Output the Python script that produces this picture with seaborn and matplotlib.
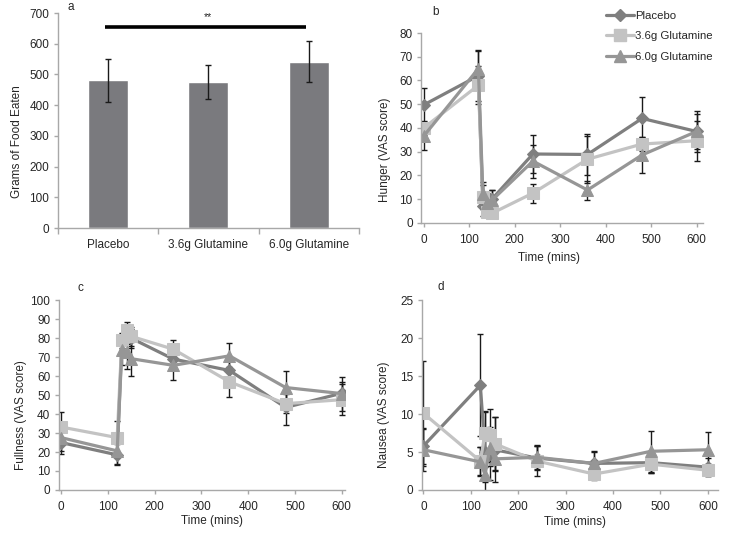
import numpy as np
import pandas as pd
import matplotlib
matplotlib.use("Agg")
import matplotlib.pyplot as plt
import seaborn as sns

sns.set_style("white")
plt.rcParams['font.family'] = ['Liberation Sans', 'DejaVu Sans']

# ---------------- data ----------------
groups = ["Placebo", "3.6g Glutamine", "6.0g Glutamine"]
food_mean = [481, 476, 542]
food_err = [71, 56, 66]

times = [0, 120, 130, 140, 150, 240, 360, 480, 600]

hunger_placebo = [49.7, 62, 7, 8, 10, 29, 28.8, 44, 38.5]
hunger_placebo_err = [7, 10.5, 4, 4, 4, 8, 8.5, 9, 8.5]
hunger_36 = [40, 58, 11, 4.5, 4, 12.5, 26.8, 33.2, 34.6]
hunger_36_err = [3, 8, 5, 2, 2, 4, 10, 3, 8.5]
hunger_60 = [36.6, 65, 12, 8.5, 9.5, 26, 13.8, 28.6, 38.5]
hunger_60_err = [6, 8, 5, 4, 4.5, 7, 4, 7.5, 7.5]

full_placebo = [25, 18.5, 78, 81, 80, 69, 63, 43.5, 51]
full_placebo_err = [6, 5.5, 4, 4, 5, 5, 6, 9, 6]
full_36 = [33.2, 27.6, 79, 84.2, 81, 74.2, 57, 45.5, 47.6]
full_36_err = [8, 8.5, 4, 4.3, 5, 5, 8, 5, 8]
full_60 = [27.6, 20.6, 73.8, 72.8, 69.2, 65.7, 70.7, 54, 50.8]
full_60_err = [7, 7, 8, 9, 9, 7.5, 7, 8.5, 9]

naus_placebo = [5.8, 13.8, 5.0, 4.8, 5.3, 4.2, 3.5, 3.6, 3.0]
naus_placebo_err = [2.4, 6.7, 5.3, 3.5, 4.3, 1.6, 1.5, 1.3, 1.2]
naus_36 = [10.1, 3.8, 7.5, 7.2, 6.1, 3.8, 2.1, 3.4, 2.6]
naus_36_err = [6.9, 1.8, 2.9, 3.5, 3.5, 2.0, 0.8, 1.2, 0.8]
naus_60 = [5.3, 3.7, 2.0, 5.5, 4.1, 4.3, 3.5, 5.1, 5.3]
naus_60_err = [2.8, 1.9, 1.0, 2.4, 1.6, 1.6, 1.6, 2.7, 2.3]

# ---------------- styles ----------------
palette = {"Placebo": "#7f7f7f", "3.6g Glutamine": "#c3c3c3", "6.0g Glutamine": "#969696"}
markers = {"Placebo": "D", "3.6g Glutamine": "s", "6.0g Glutamine": "^"}
msizes = {"Placebo": 6, "3.6g Glutamine": 8, "6.0g Glutamine": 8}
TXT = "#262626"
SPINE = "#a8a8a8"
FS = 8.5
W, H = 740, 542

fig = plt.figure(figsize=(7.4, 5.42), dpi=100)
ax_a = fig.add_axes([0.078, 0.579, 0.407, 0.397])
ax_b = fig.add_axes([0.569, 0.589, 0.381, 0.350])
ax_c = fig.add_axes([0.0793, 0.096, 0.387, 0.350])
ax_d = fig.add_axes([0.570, 0.096, 0.400, 0.350])


def style_axes(ax):
    for s in ["top", "right"]:
        ax.spines[s].set_visible(False)
    for s in ["left", "bottom"]:
        ax.spines[s].set_color(SPINE)
        ax.spines[s].set_linewidth(1.0)
    ax.tick_params(axis="both", which="both", direction="out", color=SPINE,
                   labelsize=FS, labelcolor=TXT, length=3, width=1,
                   left=True, bottom=True, pad=3)


def place_ylabel(ax, right_px, center_px):
    ax.yaxis.set_label_coords(right_px / W, 1 - center_px / H, transform=fig.transFigure)


def place_xlabel(ax, center_px, top_px):
    ax.xaxis.set_label_coords(center_px / W, 1 - top_px / H, transform=fig.transFigure)


# ---------------- panel a ----------------
dfa = pd.DataFrame({"group": groups, "grams": food_mean})
sns.barplot(data=dfa, x="group", y="grams", color="#7a7a7e", width=0.4,
            errorbar=None, ax=ax_a, saturation=1)
ax_a.errorbar(range(len(groups)), food_mean, yerr=food_err, fmt="none",
              ecolor="#1a1a1a", elinewidth=1, capsize=2.5, capthick=1)
style_axes(ax_a)
ax_a.set_xlim(-0.5, 2.5)
ax_a.set_ylim(0, 700)
ax_a.set_yticks(range(0, 701, 100))
ax_a.set_xticks([-0.5, 0.5, 1.5, 2.5], minor=True)
ax_a.tick_params(axis="x", which="major", length=0, pad=8)
ax_a.tick_params(axis="x", which="minor", length=4, color=SPINE)
ax_a.set_xlabel("")
ax_a.set_ylabel("Grams of Food Eaten", fontsize=FS, color=TXT)
place_ylabel(ax_a, 23, 142)
ax_a.plot([-0.03, 1.97], [656, 656], color="black", lw=2.6, clip_on=False,
          solid_capstyle="butt")
ax_a.text(1.0, 672, "**", ha="center", va="bottom", fontsize=FS - 1, color=TXT)
fig.text(68 / W, 1 - 7 / H, "a", fontsize=FS, color=TXT, ha="left", va="center")


def line_panel(ax, series, errs, ylim, yticks, xlim, ylabel, letter, lpos, ylab_pos, xlab_pos):
    rows = []
    for g, vals in zip(groups, series):
        for t, v in zip(times, vals):
            rows.append({"time": t, "value": v, "group": g})
    df = pd.DataFrame(rows)
    for g, vals, er in zip(groups, series, errs):
        ax.errorbar(times, vals, yerr=er, fmt="none", ecolor="#1a1a1a",
                    elinewidth=1, capsize=2.5, capthick=1, zorder=1.5)
    for g in groups:
        sub = df[df.group == g]
        sns.lineplot(data=sub, x="time", y="value", color=palette[g],
                     marker=markers[g], markersize=msizes[g],
                     markeredgecolor=palette[g], linewidth=2.3, ax=ax,
                     label=g, zorder=2, legend=False)
    style_axes(ax)
    ax.set_xlim(*xlim)
    ax.set_ylim(*ylim)
    ax.set_yticks(yticks)
    ax.set_xticks(range(0, 601, 100))
    ax.tick_params(axis="x", pad=5)
    ax.set_xlabel("Time (mins)", fontsize=FS, color=TXT)
    ax.set_ylabel(ylabel, fontsize=FS, color=TXT)
    place_ylabel(ax, *ylab_pos)
    place_xlabel(ax, *xlab_pos)
    fig.text(lpos[0] / W, 1 - lpos[1] / H, letter, fontsize=FS,
             color=TXT, ha="left", va="center")


line_panel(ax_b, [hunger_placebo, hunger_36, hunger_60],
           [hunger_placebo_err, hunger_36_err, hunger_60_err],
           (0, 80), range(0, 81, 10), (-6, 614), "Hunger (VAS score)", "b", (432, 12),
           (391, 150), (549, 252))
line_panel(ax_c, [full_placebo, full_36, full_60],
           [full_placebo_err, full_36_err, full_60_err],
           (0, 100), range(0, 101, 10), (-5, 607), "Fullness (VAS score)", "c", (77, 288),
           (27, 415), (212, 515))
line_panel(ax_d, [naus_placebo, naus_36, naus_60],
           [naus_placebo_err, naus_36_err, naus_60_err],
           (0, 25), range(0, 26, 5), (-3.5, 621), "Nausea (VAS score)", "d", (437, 287),
           (390, 415), (575, 516))

# legend for panel b
handles = [plt.Line2D([], [], color=palette[g], marker=markers[g], markersize=msizes[g],
                      markeredgecolor=palette[g], linewidth=2.3) for g in groups]
fig.legend(handles, groups, loc="upper left", bbox_to_anchor=(601 / W, 1 - 6 / H),
           frameon=False, fontsize=8.2, handlelength=2.5, handletextpad=0.1,
           labelspacing=0.95, labelcolor=TXT, borderaxespad=0)

fig.savefig("out.png", dpi=100)
